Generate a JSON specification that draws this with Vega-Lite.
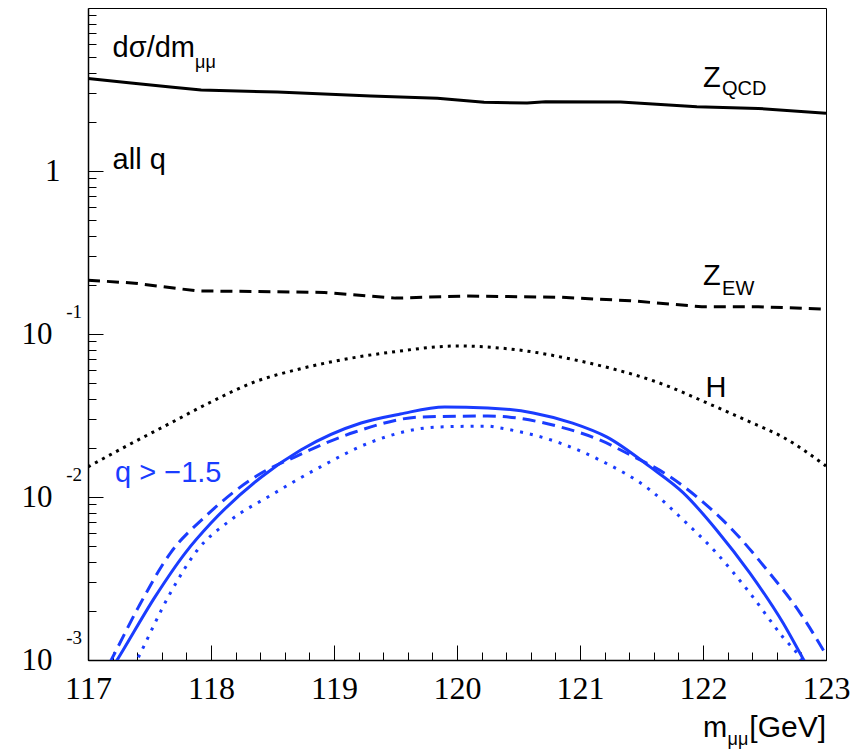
{
  "$schema": "https://vega.github.io/schema/vega-lite/v6.json",
  "width": 738,
  "height": 652,
  "autosize": {"type": "none"},
  "padding": {"left": 88, "top": 8, "right": 41, "bottom": 90},
  "background": "white",
  "config": {"view": {"stroke": "#000", "strokeWidth": 1}},
  "datasets": {
    "zqcd": [
      {"m": 117.0, "v": 3.70}, {"m": 117.35, "v": 3.47}, {"m": 117.69, "v": 3.26}, {"m": 117.92, "v": 3.14},
      {"m": 118.54, "v": 3.05}, {"m": 119.30, "v": 2.88}, {"m": 119.84, "v": 2.79}, {"m": 120.22, "v": 2.64},
      {"m": 120.57, "v": 2.61}, {"m": 120.72, "v": 2.66}, {"m": 121.33, "v": 2.65}, {"m": 121.95, "v": 2.48},
      {"m": 122.45, "v": 2.42}, {"m": 123.0, "v": 2.26}
    ],
    "zew": [
      {"m": 117.0, "v": 0.214}, {"m": 117.38, "v": 0.205}, {"m": 117.88, "v": 0.184}, {"m": 118.92, "v": 0.180},
      {"m": 119.50, "v": 0.166}, {"m": 120.07, "v": 0.171}, {"m": 120.84, "v": 0.168}, {"m": 121.41, "v": 0.160},
      {"m": 121.99, "v": 0.147}, {"m": 122.45, "v": 0.147}, {"m": 123.0, "v": 0.142}
    ],
    "higgs": [
      {"m": 117.0, "v": 0.0153}, {"m": 117.3, "v": 0.0203}, {"m": 117.67, "v": 0.0284}, {"m": 118.0, "v": 0.0383},
      {"m": 118.36, "v": 0.0510}, {"m": 118.72, "v": 0.0610}, {"m": 119.0, "v": 0.0680}, {"m": 119.5, "v": 0.0780},
      {"m": 120.0, "v": 0.0844}, {"m": 120.5, "v": 0.0798}, {"m": 121.0, "v": 0.0683}, {"m": 121.3, "v": 0.0602},
      {"m": 121.6, "v": 0.0515}, {"m": 122.11, "v": 0.0356}, {"m": 122.38, "v": 0.0289}, {"m": 122.65, "v": 0.0233},
      {"m": 123.0, "v": 0.0155}
    ],
    "bsolid": [
      {"m": 117.15, "v": 0.00078}, {"m": 117.27, "v": 0.00110}, {"m": 117.545, "v": 0.00244}, {"m": 117.79, "v": 0.00453},
      {"m": 118.0, "v": 0.00692}, {"m": 118.41, "v": 0.01327}, {"m": 118.73, "v": 0.01942}, {"m": 119.22, "v": 0.02844},
      {"m": 119.54, "v": 0.0323}, {"m": 119.90, "v": 0.03565}, {"m": 120.25, "v": 0.0352}, {"m": 120.62, "v": 0.0328},
      {"m": 120.94, "v": 0.0284}, {"m": 121.22, "v": 0.0233}, {"m": 121.57, "v": 0.0153}, {"m": 121.84, "v": 0.0106},
      {"m": 122.11, "v": 0.00628}, {"m": 122.38, "v": 0.00342}, {"m": 122.65, "v": 0.00169}, {"m": 122.81, "v": 0.00103},
      {"m": 122.95, "v": 0.00067}
    ],
    "bdash": [
      {"m": 117.1, "v": 0.00074}, {"m": 117.23, "v": 0.00115}, {"m": 117.41, "v": 0.00211}, {"m": 117.67, "v": 0.00453},
      {"m": 117.95, "v": 0.00754}, {"m": 118.41, "v": 0.01403}, {"m": 118.68, "v": 0.01759}, {"m": 119.17, "v": 0.02505},
      {"m": 119.71, "v": 0.03097}, {"m": 120.25, "v": 0.0314}, {"m": 120.84, "v": 0.0269}, {"m": 121.16, "v": 0.0224},
      {"m": 121.41, "v": 0.0181}, {"m": 121.71, "v": 0.01365}, {"m": 121.98, "v": 0.00959}, {"m": 122.24, "v": 0.00628},
      {"m": 122.52, "v": 0.00357}, {"m": 122.79, "v": 0.00194}, {"m": 123.0, "v": 0.00108}
    ],
    "bdot": [
      {"m": 117.3, "v": 0.00071}, {"m": 117.41, "v": 0.00104}, {"m": 117.67, "v": 0.00258}, {"m": 117.89, "v": 0.00473},
      {"m": 118.16, "v": 0.00722}, {"m": 118.49, "v": 0.01028}, {"m": 118.89, "v": 0.0153}, {"m": 119.30, "v": 0.0217},
      {"m": 119.85, "v": 0.0269}, {"m": 120.25, "v": 0.0272}, {"m": 120.35, "v": 0.0265}, {"m": 120.84, "v": 0.0214},
      {"m": 121.16, "v": 0.01686}, {"m": 121.57, "v": 0.01104}, {"m": 121.84, "v": 0.00722}, {"m": 122.11, "v": 0.00453},
      {"m": 122.38, "v": 0.00258}, {"m": 122.65, "v": 0.00138}, {"m": 122.79, "v": 0.00103}, {"m": 122.9, "v": 0.00070}
    ],
    "labels_main": [
      {"m": 117.2, "v": 5.0, "label": "dσ/dm"},
      {"m": 117.2, "v": 1.03, "label": "all q"},
      {"m": 122.0, "v": 3.27, "label": "Z"},
      {"m": 122.0, "v": 0.2, "label": "Z"},
      {"m": 122.02, "v": 0.0411, "label": "H"},
      {"m": 122.0, "v": 0.000337, "label": "m"}
    ],
    "labels_sub": [
      {"m": 117.87, "v": 4.28, "label": "μμ"},
      {"m": 122.2, "v": 0.000301, "label": "μμ"}
    ],
    "labels_zsub": [
      {"m": 122.155, "v": 2.93, "label": "QCD"},
      {"m": 122.155, "v": 0.1735, "label": "EW"}
    ],
    "labels_right": [
      {"m": 123.0, "v": 0.000337, "label": "[GeV]"}
    ],
    "labels_blue": [
      {"m": 117.22, "v": 0.01236, "label": "q > −1.5"}
    ],
    "exps": [
      {"m": 117.0, "v": 0.1, "label": "-1"},
      {"m": 117.0, "v": 0.01, "label": "-2"},
      {"m": 117.0, "v": 0.001, "label": "-3"}
    ]
  },
  "encoding": {
    "x": {
      "field": "m", "type": "quantitative",
      "scale": {"domain": [117, 123], "nice": false, "zero": false},
      "axis": {
        "title": null, "grid": false,
        "values": [117, 117.2, 117.4, 117.6, 117.8, 118, 118.2, 118.4, 118.6, 118.8, 119, 119.2, 119.4, 119.6, 119.8, 120, 120.2, 120.4, 120.6, 120.8, 121, 121.2, 121.4, 121.6, 121.8, 122, 122.2, 122.4, 122.6, 122.8, 123],
        "labelExpr": "abs(datum.value - round(datum.value)) < 0.001 ? format(datum.value, 'd') : ''",
        "tickSize": {"condition": {"test": "abs(datum.value - round(datum.value)) < 0.001", "value": -15}, "value": -8},
        "tickColor": "#000", "tickWidth": 1,
        "domainColor": "#000", "domainWidth": 1.5,
        "labelFont": "Liberation Serif", "labelFontSize": 32, "labelColor": "#000",
        "labelPadding": 28, "labelBaseline": "top", "labelOverlap": false, "labelFlush": false
      }
    },
    "y": {
      "field": "v", "type": "quantitative",
      "scale": {"type": "log", "domain": [0.001, 10], "nice": false},
      "axis": {
        "title": null, "grid": false,
        "values": [0.001, 0.002, 0.003, 0.004, 0.005, 0.006, 0.007, 0.008, 0.009, 0.01, 0.02, 0.03, 0.04, 0.05, 0.06, 0.07, 0.08, 0.09, 0.1, 0.2, 0.3, 0.4, 0.5, 0.6, 0.7, 0.8, 0.9, 1, 2, 3, 4, 5, 6, 7, 8, 9],
        "labelExpr": "datum.value == 1 ? '1' : ((datum.value == 0.1 || datum.value == 0.01 || datum.value == 0.001) ? '10' : '')",
        "tickSize": {"condition": {"test": "datum.value == 1 || datum.value == 0.1 || datum.value == 0.01 || datum.value == 0.001", "value": -15}, "value": -8},
        "tickColor": "#000", "tickWidth": 1,
        "domainColor": "#000", "domainWidth": 1.5,
        "labelFont": "Liberation Serif", "labelFontSize": 31, "labelColor": "#000",
        "labelPadding": {"condition": {"test": "datum.value == 1", "value": 43}, "value": 51},
        "labelBaseline": "middle", "labelOverlap": false, "labelFlush": false
      }
    }
  },
  "layer": [
    {"data": {"name": "zqcd"}, "mark": {"type": "line", "color": "#000", "strokeWidth": 3, "clip": true}},
    {"data": {"name": "zew"}, "mark": {"type": "line", "color": "#000", "strokeWidth": 3, "strokeDash": [12, 7], "clip": true}},
    {"data": {"name": "higgs"}, "mark": {"type": "line", "color": "#000", "strokeWidth": 3, "strokeDash": [3, 5], "interpolate": "monotone", "clip": true}},
    {"data": {"name": "bsolid"}, "mark": {"type": "line", "color": "#1a3cff", "strokeWidth": 3, "interpolate": "monotone", "clip": true}},
    {"data": {"name": "bdash"}, "mark": {"type": "line", "color": "#1a3cff", "strokeWidth": 3, "strokeDash": [13, 7], "interpolate": "monotone", "clip": true}},
    {"data": {"name": "bdot"}, "mark": {"type": "line", "color": "#1a3cff", "strokeWidth": 3, "strokeDash": [3, 7], "interpolate": "monotone", "clip": true}},
    {"data": {"name": "labels_main"}, "mark": {"type": "text", "font": "Liberation Sans", "fontSize": 29, "color": "#000", "align": "left", "baseline": "alphabetic"}, "encoding": {"text": {"field": "label"}}},
    {"data": {"name": "labels_sub"}, "mark": {"type": "text", "font": "Liberation Sans", "fontSize": 18, "color": "#000", "align": "left", "baseline": "alphabetic"}, "encoding": {"text": {"field": "label"}}},
    {"data": {"name": "labels_zsub"}, "mark": {"type": "text", "font": "Liberation Sans", "fontSize": 20, "color": "#000", "align": "left", "baseline": "alphabetic"}, "encoding": {"text": {"field": "label"}}},
    {"data": {"name": "labels_right"}, "mark": {"type": "text", "font": "Liberation Sans", "fontSize": 30, "color": "#000", "align": "right", "baseline": "alphabetic"}, "encoding": {"text": {"field": "label"}}},
    {"data": {"name": "labels_blue"}, "mark": {"type": "text", "font": "Liberation Sans", "fontSize": 29, "color": "#1a3cff", "align": "left", "baseline": "alphabetic"}, "encoding": {"text": {"field": "label"}}},
    {"data": {"name": "exps"}, "mark": {"type": "text", "font": "Liberation Serif", "fontSize": 19, "color": "#000", "align": "right", "baseline": "alphabetic", "dx": -6, "dy": -16}, "encoding": {"text": {"field": "label"}}}
  ]
}
